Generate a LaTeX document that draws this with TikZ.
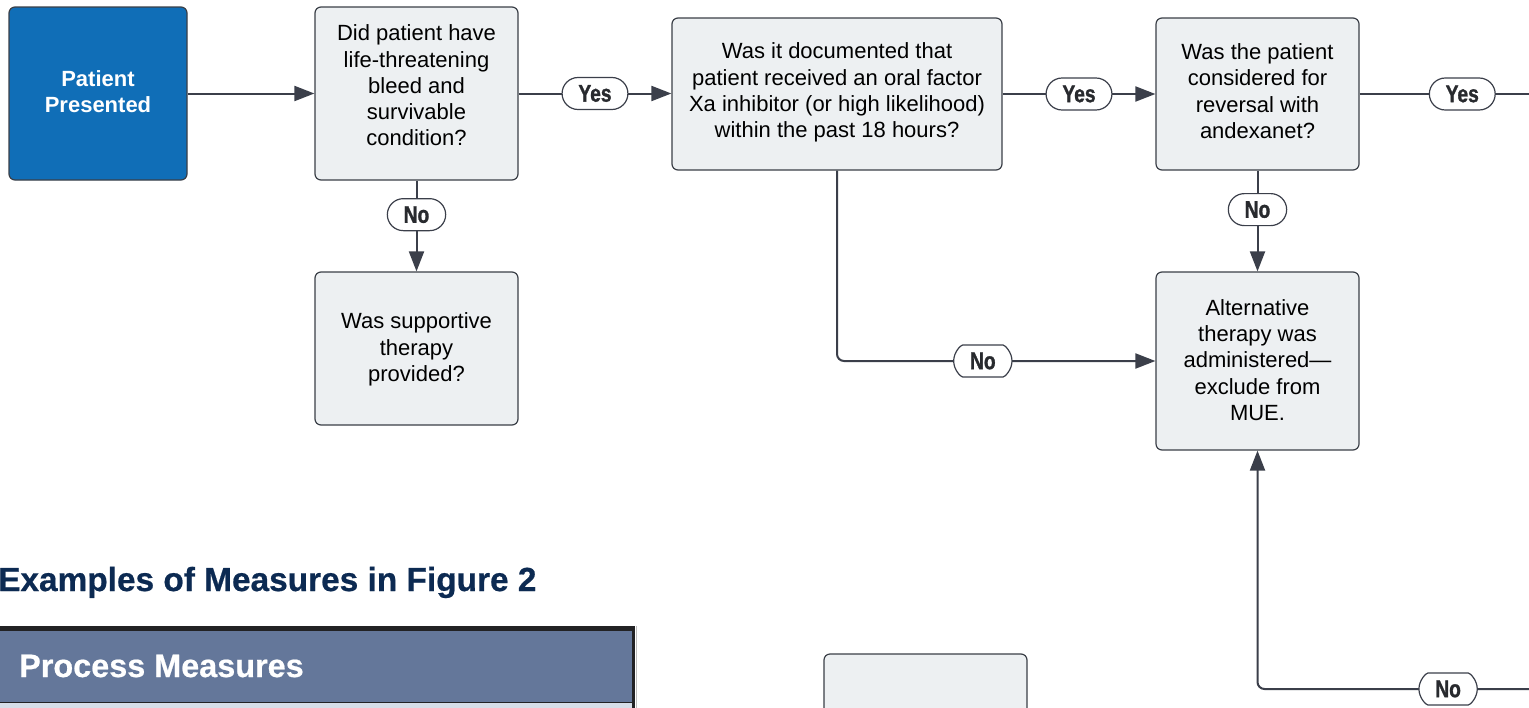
\documentclass[tikz,border=0pt]{standalone}
\usepackage{fontspec}
\setmainfont{Liberation Sans}
\newfontfamily\lblfont[FakeStretch=0.8,FakeBold=1.2]{Liberation Sans}
\newfontfamily\headfont[FakeBold=0.6]{Liberation Sans}
\usetikzlibrary{arrows.meta,shapes.misc}

\definecolor{blueboxfill}{RGB}{16,110,183}
\definecolor{boxfill}{RGB}{237,240,242}
\definecolor{boxline}{RGB}{58,63,71}
\definecolor{linec}{RGB}{59,63,74}
\definecolor{labeltext}{RGB}{40,42,46}
\definecolor{headnavy}{RGB}{12,42,82}
\definecolor{tablehead}{RGB}{100,119,154}
\definecolor{tablerow}{RGB}{214,222,232}
\definecolor{tableborder}{RGB}{34,34,36}

\begin{document}
\begin{tikzpicture}[x=1pt,y=-1pt,
  box/.style={draw=boxline, fill=boxfill, line width=1.2pt, rounded corners=6pt},
  startbox/.style={box, fill=blueboxfill},
  boxtext/.style={align=center, text=black, inner sep=0pt,
    font=\fontsize{22}{26.3}\selectfont},
  starttext/.style={boxtext, text=white,
    font=\bfseries\fontsize{22}{26.3}\selectfont},
  conn/.style={draw=linec, line width=2pt},
  arrowconn/.style={conn, -{Triangle[length=20pt,width=15pt]}},
  pill/.style={draw=linec, fill=white, line width=1.2pt, shape=rounded rectangle,
    minimum height=32pt, inner xsep=14pt, inner ysep=0pt, text=labeltext,
    font=\lblfont\bfseries\fontsize{24}{24}\selectfont},
]
\clip (0,0) rectangle (1529,707);
\useasboundingbox (0,0) rectangle (1529,707);

% flowchart boxes
\node[startbox, minimum width=178pt, minimum height=173pt] (pp) at (98,93.5) {};
\node[box, minimum width=203pt, minimum height=173pt] (q1) at (416.5,93.5) {};
\node[box, minimum width=330pt, minimum height=152pt] (q2) at (837,94) {};
\node[box, minimum width=203pt, minimum height=152pt] (q3) at (1257.5,94) {};
\node[box, minimum width=203pt, minimum height=153pt] (supp) at (416.5,348.5) {};
\node[box, minimum width=203pt, minimum height=178pt] (alt) at (1257.5,361) {};
\node[box, minimum width=203pt, minimum height=153pt] (low) at (925.5,730.5) {};

% box texts
\node[starttext] (ppt) at ([yshift=2pt]pp.center) {Patient\\Presented};
\node[boxtext] (q1t) at ([yshift=8pt]q1.center)
  {Did patient have\\life-threatening\\bleed and\\survivable\\condition?};
\node[boxtext] (q2t) at ([yshift=1.5pt]q2.center)
  {Was it documented that\\patient received an oral factor\\Xa inhibitor (or high likelihood)\\within the past 18 hours?};
\node[boxtext] (q3t) at ([yshift=3pt]q3.center)
  {Was the patient\\considered for\\reversal with\\andexanet?};
\node[boxtext] (suppt) at ([yshift=-1pt]supp.center)
  {Was supportive\\therapy\\provided?};
\node[boxtext] (altt) at ([yshift=1pt]alt.center)
  {Alternative\\therapy was\\administered—\\exclude from\\MUE.};

% loose ends leaving and entering at the right edge
\coordinate (out1) at (1529,94);
\coordinate (in1) at (1529,689);

% connectors
\draw[arrowconn] (pp.east) -- (q1.west);
\draw[arrowconn] (q1.east) -- (q1.east -| q2.west)
  node[pill, pos=0.5] (y1) {Yes};
\draw[arrowconn] (q2.east) -- (q3.west)
  node[pill, pos=0.5] (y2) {Yes};
\draw[conn] (q3.east) -- (out1)
  node[pill, pos=0.606] (y3) {Yes};
\draw[arrowconn] (q1.south) -- (supp.north)
  node[pill, pos=0.375] (n1) {No};
\draw[arrowconn] (q3.south) -- (alt.north)
  node[pill, pos=0.387] (n2) {No};
\draw[arrowconn, rounded corners=7pt] (q2.south) |- (alt.west)
  node[pill, pos=0.729] (n3) {No};
\draw[arrowconn, rounded corners=7pt] (in1) -| (alt.south)
  node[pill, pos=0.149] (n4) {No};

% measures heading and table
\node[anchor=base west, inner sep=0pt, text=headnavy,
  font=\headfont\bfseries\fontsize{33.4}{36}\selectfont] (heading) at (-2,591)
  {Examples of Measures in Figure 2};
\fill[tablehead] (0,631) rectangle (632,702);
\fill[tablerow] (0,703) rectangle (632,712);
\draw[tableborder, line width=5pt] (0,628.5) -- (635,628.5);
\draw[tableborder, line width=3pt] (633.5,626) -- (633.5,712);
\draw[tableborder, line width=1.2pt] (0,702.5) -- (632,702.5);
\draw[black!25, line width=1pt] (636.5,626) -- (636.5,712);
\node[anchor=base west, inner sep=0pt, text=white,
  font=\headfont\bfseries\fontsize{32.4}{36}\selectfont] (ptitle) at (19,677)
  {Process Measures};
\end{tikzpicture}
\end{document}
